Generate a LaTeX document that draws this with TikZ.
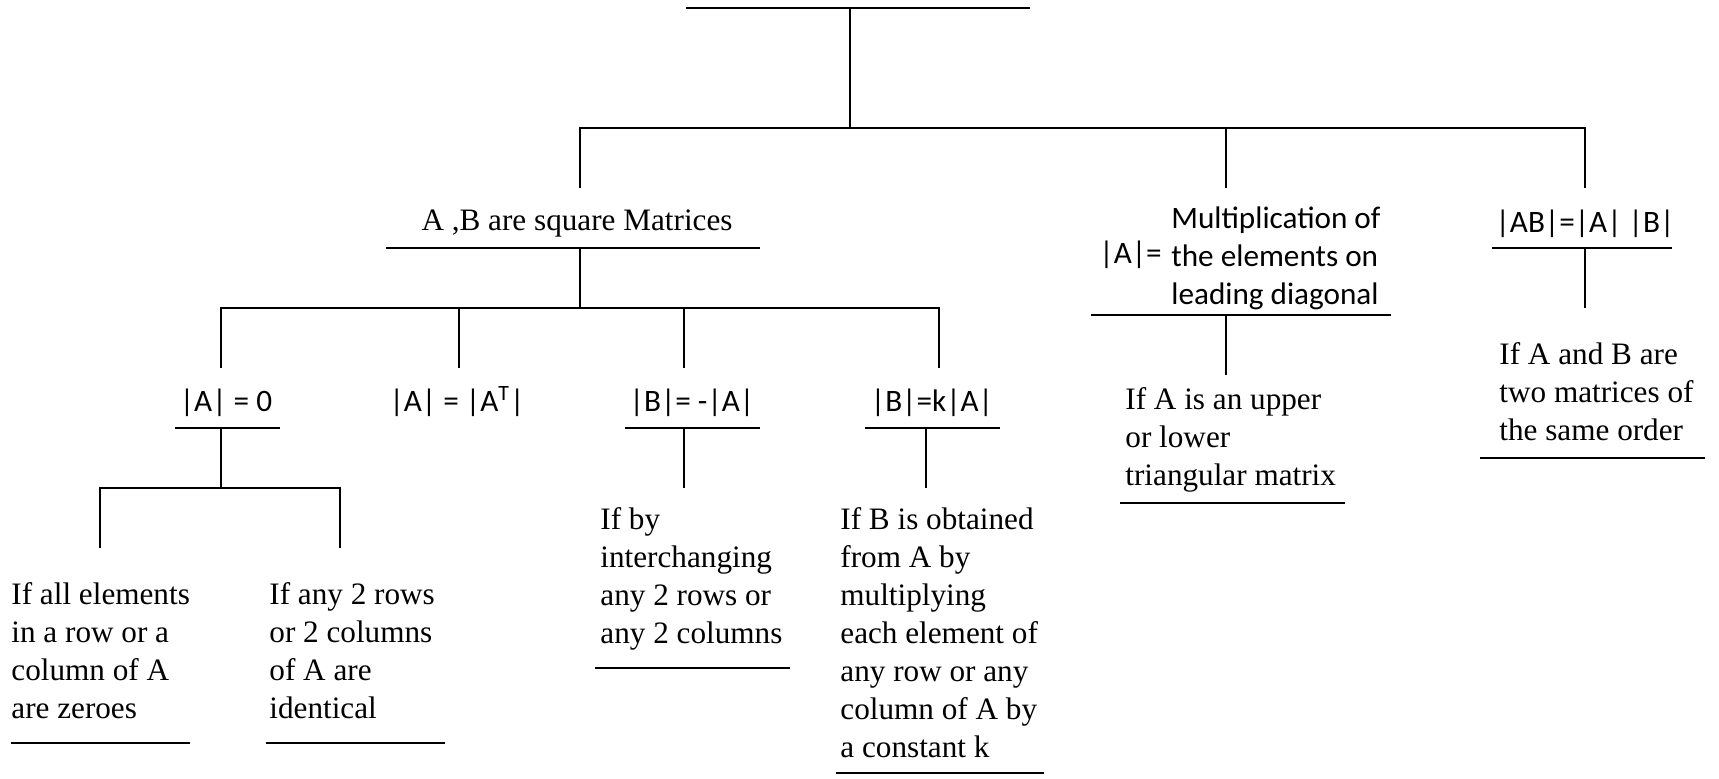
\documentclass[tikz,border=0pt]{standalone}
\usepackage{fontspec}
\setmainfont{Liberation Serif}
\newfontfamily\calfont{Carlito}
\tikzset{
  conn/.style={line width=0.8pt},
  txt/.style={font=\fontsize{15.6}{19}\selectfont, inner sep=0pt, align=left, anchor=base west},
  frm/.style={font=\calfont\fontsize{15.6}{19}\selectfont, inner sep=0pt, anchor=base}
}
\begin{document}
\begin{tikzpicture}[x=0.5pt,y=-0.5pt]
\useasboundingbox (0,0) rectangle (1719,778);

% branch points
\coordinate (topL) at (686,8);
\coordinate (topR) at (1030,8);
\coordinate (top) at (850,8);
\coordinate (j1) at (850,128);
\coordinate (abTop) at (580,188);
\coordinate (diagTop) at (1226,188);
\coordinate (prodTop) at (1585,188);
\coordinate (j2) at (580,308);
\coordinate (zeroTop) at (221,368);
\coordinate (transTop) at (459,368);
\coordinate (swapTop) at (684,368);
\coordinate (scaleTop) at (939,368);
\coordinate (j3) at (221,488);
\coordinate (rowTop) at (100,548);
\coordinate (dupTop) at (340,548);
\coordinate (swapEnd) at (684,488);
\coordinate (scaleEnd) at (926,488);
\coordinate (diagEnd) at (1226,375);
\coordinate (prodEnd) at (1585,308);

% underlines
\coordinate (uABl) at (386,248);   \coordinate (uABr) at (760,248);
\coordinate (uZerol) at (175,428); \coordinate (uZeror) at (280,428);
\coordinate (uSwapl) at (625,428); \coordinate (uSwapr) at (760,428);
\coordinate (uScalel) at (865,428); \coordinate (uScaler) at (1000,428);
\coordinate (uDiagl) at (1091,315); \coordinate (uDiagr) at (1391,315);
\coordinate (uProdl) at (1492,248); \coordinate (uProdr) at (1672,248);
\coordinate (uRowl) at (11,743);   \coordinate (uRowr) at (190,743);
\coordinate (uDupl) at (266,743);  \coordinate (uDupr) at (445,743);
\coordinate (uIntl) at (595,668);  \coordinate (uIntr) at (790,668);
\coordinate (uMull) at (836,773);  \coordinate (uMulr) at (1044,773);
\coordinate (uTril) at (1120,503); \coordinate (uTrir) at (1345,503);
\coordinate (uOrdl) at (1480,458); \coordinate (uOrdr) at (1705,458);

% labels (multi-line texts sit on the baseline of their last line)
\node[frm, font=\fontsize{15.6}{19}\selectfont] (abSq) at (577,230) {A ,B are square Matrices};
\node[frm] (detZero) at (226,411) {|A| = 0};
\node[frm] (detTrans) at (457,411) {|A| = |A\textsuperscript{T}|};
\node[frm] (detSwap) at (692,411) {|B|= -|A|};
\node[frm] (detScale) at (932,411) {|B|=k|A|};
\node[frm] (detProd) at (1585,232) {|AB|=|A| |B|};
\node[frm, anchor=base west] (detDiag) at (1099,263) {|A|=};
\node[txt, font=\calfont\fontsize{15.6}{19}\selectfont] (diagText) at (1171,304) {Multiplication of\\the elements on\\leading diagonal};

\node[txt] (rowText) at (11,718) {If all elements\\in a row or a\\column of A\\are zeroes};
\node[txt] (dupText) at (269,718) {If any 2 rows\\or 2 columns\\of A are\\identical};
\node[txt] (intText) at (600,643) {If by\\interchanging\\any 2 rows or\\any 2 columns};
\node[txt] (mulText) at (840,757) {If B is obtained\\from A by\\multiplying\\each element of\\any row or any\\column of A by\\a constant k};
\node[txt] (triText) at (1125,485) {If A is an upper\\or lower\\triangular matrix};
\node[txt] (ordText) at (1499,440) {If A and B are\\two matrices of\\the same order};

% tree
\draw[conn] (topL) -- (topR);
\draw[conn] (top) -- (j1);
\draw[conn] (abTop) |- (j1) -| (prodTop);
\draw[conn] (j1 -| diagTop) -- (diagTop);
\draw[conn] (uABl) -- (uABr);
\draw[conn] (uABl -| j2) -- (j2);
\draw[conn] (zeroTop) |- (j2) -| (scaleTop);
\draw[conn] (j2 -| transTop) -- (transTop);
\draw[conn] (j2 -| swapTop) -- (swapTop);
\draw[conn] (uZerol) -- (uZeror);
\draw[conn] (uZerol -| j3) -- (j3);
\draw[conn] (rowTop) |- (j3) -| (dupTop);
\draw[conn] (uSwapl) -- (uSwapr);
\draw[conn] (uSwapl -| swapEnd) -- (swapEnd);
\draw[conn] (uScalel) -- (uScaler);
\draw[conn] (uScalel -| scaleEnd) -- (scaleEnd);
\draw[conn] (uDiagl) -- (uDiagr);
\draw[conn] (uDiagl -| diagEnd) -- (diagEnd);
\draw[conn] (uProdl) -- (uProdr);
\draw[conn] (uProdl -| prodEnd) -- (prodEnd);

% bottom underlines
\draw[conn] (uRowl) -- (uRowr);
\draw[conn] (uDupl) -- (uDupr);
\draw[conn] (uIntl) -- (uIntr);
\draw[conn] (uMull) -- (uMulr);
\draw[conn] (uTril) -- (uTrir);
\draw[conn] (uOrdl) -- (uOrdr);
\end{tikzpicture}
\end{document}
